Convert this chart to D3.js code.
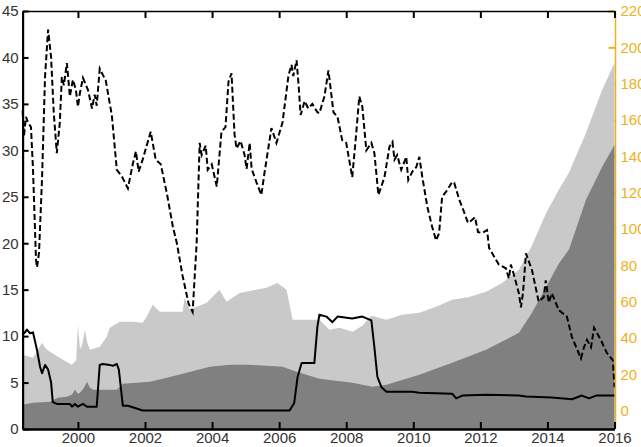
<!DOCTYPE html>
<html>
<head>
<meta charset="utf-8">
<script src="https://cdn.jsdelivr.net/npm/d3@7"></script>
<style>
  body { margin: 0; background: #fff; }
  svg text { font-family: "Liberation Sans", Arial, sans-serif; }
</style>
</head>
<body>
<svg id="chart" width="641" height="447"></svg>
<script>
// tick labels
const leftTicks = [0, 5, 10, 15, 20, 25, 30, 35, 40, 45];
const rightTicks = [0, 20, 40, 60, 80, 100, 120, 140, 160, 180, 200, 220];
const yearTicks = [2000, 2002, 2004, 2006, 2008, 2010, 2012, 2014, 2016];

// dashed series (left axis), [year, value]
const dashedSeries = [
  [1998.35,34.3],[1998.39,31.5],[1998.45,33.6],[1998.51,33.0],[1998.60,32.5],[1998.66,28.0],[1998.75,18.2],[1998.78,17.4],
  [1998.84,19.0],[1998.93,27.0],[1999.02,38.0],[1999.11,43.0],[1999.20,40.0],[1999.28,34.0],[1999.37,29.7],[1999.46,33.0],
  [1999.52,37.9],[1999.58,37.0],[1999.67,39.4],[1999.76,35.8],[1999.85,37.6],[1999.94,36.5],[2000.00,34.7],[2000.06,36.2],
  [2000.15,37.8],[2000.30,36.5],[2000.42,34.5],[2000.50,36.0],[2000.56,34.8],[2000.65,38.8],[2000.83,37.5],[2001.01,33.8],
  [2001.16,27.9],[2001.31,27.2],[2001.49,25.9],[2001.64,28.6],[2001.73,29.9],[2001.81,27.7],[2001.93,29.0],[2002.17,32.0],
  [2002.32,29.0],[2002.47,28.5],[2002.65,25.4],[2002.83,21.8],[2002.95,20.0],[2003.12,16.5],[2003.30,13.5],[2003.42,12.6],
  [2003.54,20.0],[2003.63,30.8],[2003.69,29.5],[2003.81,30.5],[2003.87,27.9],[2003.99,28.5],[2004.14,26.1],[2004.28,32.0],
  [2004.40,32.5],[2004.49,37.4],[2004.58,38.3],[2004.67,31.7],[2004.73,30.2],[2004.85,31.0],[2004.97,29.5],[2005.03,28.0],
  [2005.12,30.8],[2005.18,28.0],[2005.33,26.5],[2005.47,25.2],[2005.56,27.5],[2005.77,32.4],[2005.92,30.8],[2006.10,33.0],
  [2006.28,38.1],[2006.37,39.2],[2006.42,38.0],[2006.52,39.7],[2006.58,37.0],[2006.64,33.8],[2006.76,35.3],[2006.87,34.5],
  [2006.99,35.0],[2007.14,34.1],[2007.20,34.0],[2007.35,35.8],[2007.47,38.6],[2007.62,34.1],[2007.74,33.6],[2007.88,31.1],
  [2008.00,30.8],[2008.18,27.1],[2008.30,31.9],[2008.39,35.8],[2008.48,34.7],[2008.60,30.0],[2008.75,30.8],[2008.84,29.7],
  [2008.96,25.2],[2009.14,27.1],[2009.29,30.4],[2009.38,30.9],[2009.44,29.0],[2009.52,29.5],[2009.64,27.9],[2009.79,29.3],
  [2009.85,26.8],[2009.97,27.7],[2010.09,28.2],[2010.18,29.3],[2010.27,27.1],[2010.42,23.9],[2010.56,21.8],[2010.68,20.3],
  [2010.77,21.1],[2010.86,25.0],[2011.01,25.7],[2011.16,26.6],[2011.22,26.5],[2011.37,24.7],[2011.51,23.4],[2011.63,22.2],
  [2011.75,22.5],[2011.84,22.8],[2011.93,21.2],[2012.05,21.1],[2012.20,21.4],[2012.26,19.5],[2012.55,17.7],[2012.76,17.3],
  [2012.85,16.2],[2012.91,17.7],[2013.00,16.6],[2013.15,14.6],[2013.21,13.1],[2013.27,14.6],[2013.36,18.9],[2013.54,17.1],
  [2013.74,13.7],[2013.89,14.2],[2013.95,16.0],[2014.04,13.6],[2014.13,14.6],[2014.34,12.8],[2014.58,12.1],[2014.73,9.9],
  [2015.00,7.6],[2015.09,8.8],[2015.18,9.6],[2015.30,8.8],[2015.39,10.9],[2015.59,9.6],[2015.77,8.2],[2015.95,7.4],[2016.00,4.5]
];

// solid series (left axis)
const solidSeries = [
  [1998.35,10.2],[1998.42,10.4],[1998.48,10.7],[1998.57,10.3],[1998.66,10.4],[1998.78,8.5],[1998.87,6.7],[1998.93,6.0],
  [1999.02,6.9],[1999.11,6.4],[1999.20,5.0],[1999.25,2.9],[1999.37,2.7],[1999.76,2.7],[1999.82,2.4],[1999.91,2.7],
  [2000.00,2.4],[2000.15,2.7],[2000.27,2.4],[2000.56,2.4],[2000.65,6.9],[2000.74,7.0],[2000.95,6.9],[2001.04,6.8],
  [2001.16,7.0],[2001.22,6.4],[2001.34,2.5],[2001.49,2.5],[2001.75,2.2],[2001.93,2.0],[2006.31,2.0],[2006.45,2.8],
  [2006.55,5.6],[2006.67,7.1],[2007.05,7.1],[2007.14,11.0],[2007.20,12.3],[2007.41,12.1],[2007.59,11.5],[2007.74,12.1],
  [2008.18,11.9],[2008.48,12.1],[2008.75,11.7],[2008.84,8.8],[2008.93,5.6],[2009.05,4.5],[2009.20,4.0],[2009.97,4.0],
  [2010.18,3.9],[2011.16,3.8],[2011.28,3.3],[2011.46,3.6],[2012.17,3.7],[2013.15,3.6],[2013.36,3.5],[2014.13,3.4],
  [2014.73,3.2],[2015.03,3.6],[2015.24,3.3],[2015.45,3.6],[2016.00,3.6]
];

// dark grey area (right axis)
const darkSeries = [
  [1998.35,3.3],[1998.66,4.4],[1999.17,5.0],[1999.40,7.2],[1999.67,7.7],[1999.82,8.8],[1999.91,11.6],[2000.00,9.4],
  [2000.06,9.9],[2000.18,12.7],[2000.27,16.0],[2000.36,12.7],[2000.45,11.6],[2000.65,11.6],[2001.16,11.6],[2001.34,14.9],
  [2002.14,16.0],[2002.65,18.2],[2003.24,20.9],[2003.93,24.2],[2004.52,25.3],[2005.12,25.3],[2006.10,24.2],[2006.52,21.5],
  [2007.20,17.6],[2008.19,15.4],[2008.78,13.2],[2009.20,14.3],[2010.18,19.8],[2011.16,26.4],[2012.17,33.6],[2013.15,42.9],
  [2013.54,53.9],[2013.96,68.2],[2014.35,81.4],[2014.64,88.6],[2015.15,116.1],[2015.63,134.2],[2016.00,146.3]
];

// light grey area (right axis)
const lightSeries = [
  [1998.35,30.8],[1998.66,29.2],[1998.81,33.6],[1998.93,37.4],[1999.02,34.7],[1999.08,33.6],[1999.31,30.8],[1999.55,28.1],
  [1999.82,25.3],[1999.95,28.0],[2000.00,47.3],[2000.06,34.0],[2000.12,36.0],[2000.21,44.6],[2000.27,38.0],
  [2000.36,33.6],[2000.65,35.2],[2000.86,40.7],[2000.95,45.7],[2001.25,49.0],[2001.64,49.0],[2001.93,48.4],[2002.05,51.7],
  [2002.23,58.3],[2002.44,54.5],[2003.12,54.5],[2003.18,62.2],[2003.33,55.6],[2003.84,59.4],[2004.22,66.6],[2004.43,60.0],
  [2004.82,64.9],[2005.62,67.7],[2005.95,70.4],[2006.22,66.6],[2006.40,50.1],[2007.20,50.1],[2007.50,44.6],[2007.80,45.7],
  [2008.19,43.5],[2008.48,46.8],[2008.75,52.3],[2009.20,50.1],[2009.67,52.8],[2010.18,53.9],[2010.68,57.2],[2011.16,61.1],
  [2011.66,62.7],[2012.17,65.5],[2012.65,70.4],[2013.15,77.6],[2013.54,91.0],[2013.96,108.9],[2014.34,121.6],[2014.64,131.0],
  [2015.15,152.9],[2015.63,176.6],[2016.00,191.4]
];

const svg = d3.select("#chart");

const x = d3.scaleLinear().domain([1998.35, 2016]).range([22.6, 614.5]);
const yL = d3.scaleLinear().domain([0, 45]).range([429, 11]);
const yR = d3.scaleLinear().domain([-10, 220]).range([429, 11]);

const gold = "#EDB120";

// right axis first, so the areas cover its ticks
const rightAxis = svg.append("g")
  .attr("transform", "translate(615.5,0)")
  .call(d3.axisRight(yR).tickValues(rightTicks).tickSize(-7).tickSizeOuter(0).tickPadding(5));
rightAxis.select(".domain").remove();
rightAxis.selectAll(".tick line").attr("stroke", gold).attr("stroke-width", 2);
rightAxis.selectAll(".tick text").attr("fill", gold).attr("font-size", 15);

// areas
const area = d3.area()
  .x(d => x(d[0]))
  .y0(yR.range()[0])
  .y1(d => yR(d[1]));

svg.append("path").datum(lightSeries).attr("d", area).attr("fill", "#c9c9c9");
svg.append("path").datum(darkSeries).attr("d", area).attr("fill", "#808080");

// lines
const line = d3.line().x(d => x(d[0])).y(d => yL(d[1]));

svg.append("path").datum(solidSeries).attr("d", line)
  .attr("fill", "none").attr("stroke", "#000").attr("stroke-width", 2)
  .attr("stroke-linejoin", "round");

svg.append("path").datum(dashedSeries).attr("d", line)
  .attr("fill", "none").attr("stroke", "#000").attr("stroke-width", 2)
  .attr("stroke-dasharray", "6,3");

// orange right axis line
svg.append("line")
  .attr("x1", 615.5).attr("x2", 615.5)
  .attr("y1", yR.range()[1]).attr("y2", yR.range()[0])
  .attr("stroke", gold).attr("stroke-width", 1.5);

// left axis
const leftAxis = svg.append("g")
  .attr("transform", "translate(22.6,0)")
  .call(d3.axisLeft(yL).tickValues(leftTicks).tickSize(-6).tickSizeOuter(0).tickPadding(4));
leftAxis.select(".domain").attr("stroke-width", 2.2);
leftAxis.selectAll(".tick line").attr("stroke-width", 2);
leftAxis.selectAll(".tick text").attr("fill", "#333").attr("font-size", 15);

// bottom axis
const bottomAxis = svg.append("g")
  .attr("transform", "translate(0,429)")
  .call(d3.axisBottom(x).tickValues(yearTicks).tickFormat(d3.format("d")).tickSize(-7).tickSizeOuter(0).tickPadding(3));
bottomAxis.select(".domain").attr("stroke-width", 2.5);
bottomAxis.selectAll(".tick line").attr("stroke-width", 2);
bottomAxis.selectAll(".tick text").attr("fill", "#333").attr("font-size", 15);

// top axis, ticks only
const topAxis = svg.append("g")
  .attr("transform", "translate(0,11)")
  .call(d3.axisTop(x).tickValues(yearTicks).tickFormat("").tickSize(-7).tickSizeOuter(0));
topAxis.select(".domain").attr("stroke-width", 1.5);
topAxis.selectAll(".tick line").attr("stroke-width", 2);
</script>
</body>
</html>
